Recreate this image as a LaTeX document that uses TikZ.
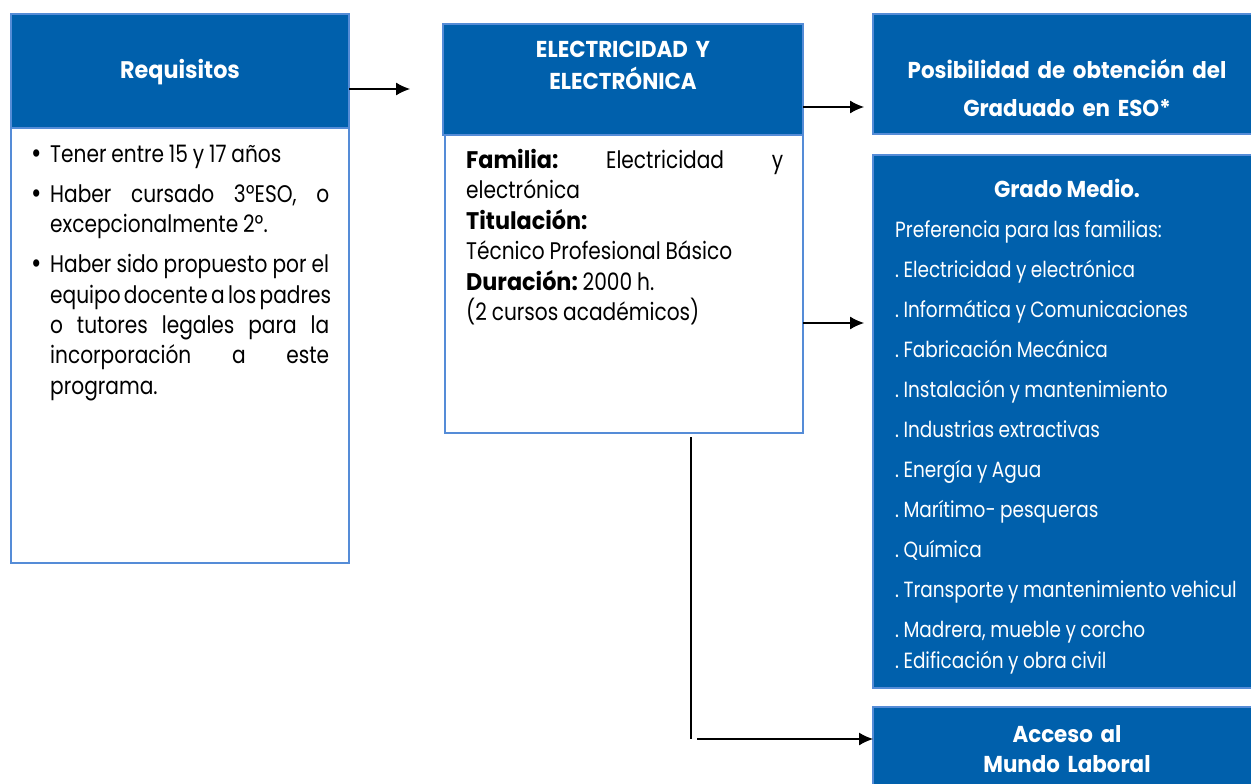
\documentclass[tikz,border=0pt]{standalone}
\usepackage{fontspec}
\setmainfont{Poppins}[FakeStretch=0.84,UprightFeatures={WordSpace=0.9},BoldFeatures={FakeStretch=0.93}]
\usetikzlibrary{arrows.meta,calc}
\definecolor{hdr}{RGB}{0,96,172}
\definecolor{edge}{RGB}{85,140,215}
\newcommand\jl[1]{\makebox[\linewidth][s]{#1}}
\newcommand\bul{\llap{{\fontsize{30}{30}\selectfont\raisebox{-1pt}{•}}\hspace{8pt}}}
\frenchspacing
\begin{document}
\begin{tikzpicture}[x=1pt,y=-1pt,
  box/.style={inner sep=0pt,outer sep=0pt,anchor=north west,line width=1.3pt,draw=edge},
  hdrbox/.style={box,fill=hdr},
  bodybox/.style={box,fill=white},
  conn/.style={line width=1.2pt,-{Latex[length=14pt,width=13pt]}},
  plainline/.style={line width=1.4pt},
  head/.style={inner sep=0pt,anchor=base,align=center,text=white,font=\fontsize{23}{32}\selectfont\bfseries},
  body/.style={inner sep=0pt,anchor=base west,align=justify,font=\fontsize{24}{30.5}\selectfont},
  list/.style={inner sep=0pt,anchor=base west,align=justify,text=white,font=\fontsize{22}{40}\selectfont}]
\useasboundingbox (0,0) rectangle (1251,784);
\fill[white] (0,0) rectangle (1251,784);
% left
\node[bodybox,minimum width=338pt,minimum height=435pt] (reqb) at (11,128) {};
\node[hdrbox,minimum width=338pt,minimum height=114pt] (reqh) at (11,14) {};
\node[head,font=\fontsize{24}{32}\selectfont\bfseries] (reqt) at (180,79) {Requisitos};
\node[body,text width=279pt] (reqx) at (50,162) {\bul Tener entre 15 y 17 años\\[9.5pt]
\bul\jl{Haber cursado 3ºESO, o}\\
excepcionalmente 2º.\\[9.5pt]
\bul\jl{Haber sido propuesto por el}\\
\jl{equipo docente a los padres}\\
\jl{o tutores legales para la}\\
\jl{incorporación a este}\\
programa.};
% middle
\node[bodybox,minimum width=358pt,minimum height=298pt] (midb) at (445,135) {};
\node[hdrbox,minimum width=360pt,minimum height=111pt] (midh) at (443,24) {};
\node[head,text width=350pt] (midt) at (623,58) {ELECTRICIDAD Y\\ELECTRÓNICA};
\node[body,text width=317pt] (midx) at (466,168) {\jl{\textbf{Familia:} Electricidad y}\\
electrónica\\
\textbf{Titulación:}\\
Técnico Profesional Básico\\
\textbf{Duración:} 2000 h.\\
(2 cursos académicos)};
% right
\node[hdrbox,minimum width=383pt,minimum height=120pt] (eso) at (873,14) {};
\node[head,text width=370pt] (esot) at (1067,79) {Posibilidad de obtención del\\[6pt]Graduado en ESO*};
\node[hdrbox,minimum width=383pt,minimum height=533pt] (gm) at (873,155) {};
\node[head] (gmt) at (1067,197) {Grado Medio.};
\node[list,text width=360pt] (gmx) at (895,237) {Preferencia para las familias:\\
. Electricidad y electrónica\\
. Informática y Comunicaciones\\
. Fabricación Mecánica\\
. Instalación y mantenimiento\\
. Industrias extractivas\\
. Energía y Agua\\
. Marítimo- pesqueras\\
. Química\\
. Transporte y mantenimiento vehicul\\
. Madrera, mueble y corcho\\[-9pt]
. Edificación y obra civil};
\node[hdrbox,minimum width=383pt,minimum height=93pt] (lab) at (873,707) {};
\node[head,text width=370pt,font=\fontsize{23}{30}\selectfont\bfseries] (labt) at (1067,742) {Acceso al\\Mundo Laboral};
% connectors
\coordinate (a1) at ($(reqh.north east)+(0,75)$);
\draw[conn] (a1) -- ++(61,0);
\coordinate (a2) at ($(midh.north east)+(0,83)$);
\draw[conn] (a2) -- ([xshift=-9pt]eso.west |- a2);
\coordinate (a3) at ($(midb.north east)+(0,188)$);
\draw[conn] (a3) -- ([xshift=-9pt]gm.west |- a3);
\coordinate (corner) at (691,739);
\draw[plainline] ([yshift=-4pt]midb.south -| corner) -- (corner);
\draw[conn] ([xshift=6pt]corner) -- (lab.west |- corner);
\end{tikzpicture}
\end{document}
